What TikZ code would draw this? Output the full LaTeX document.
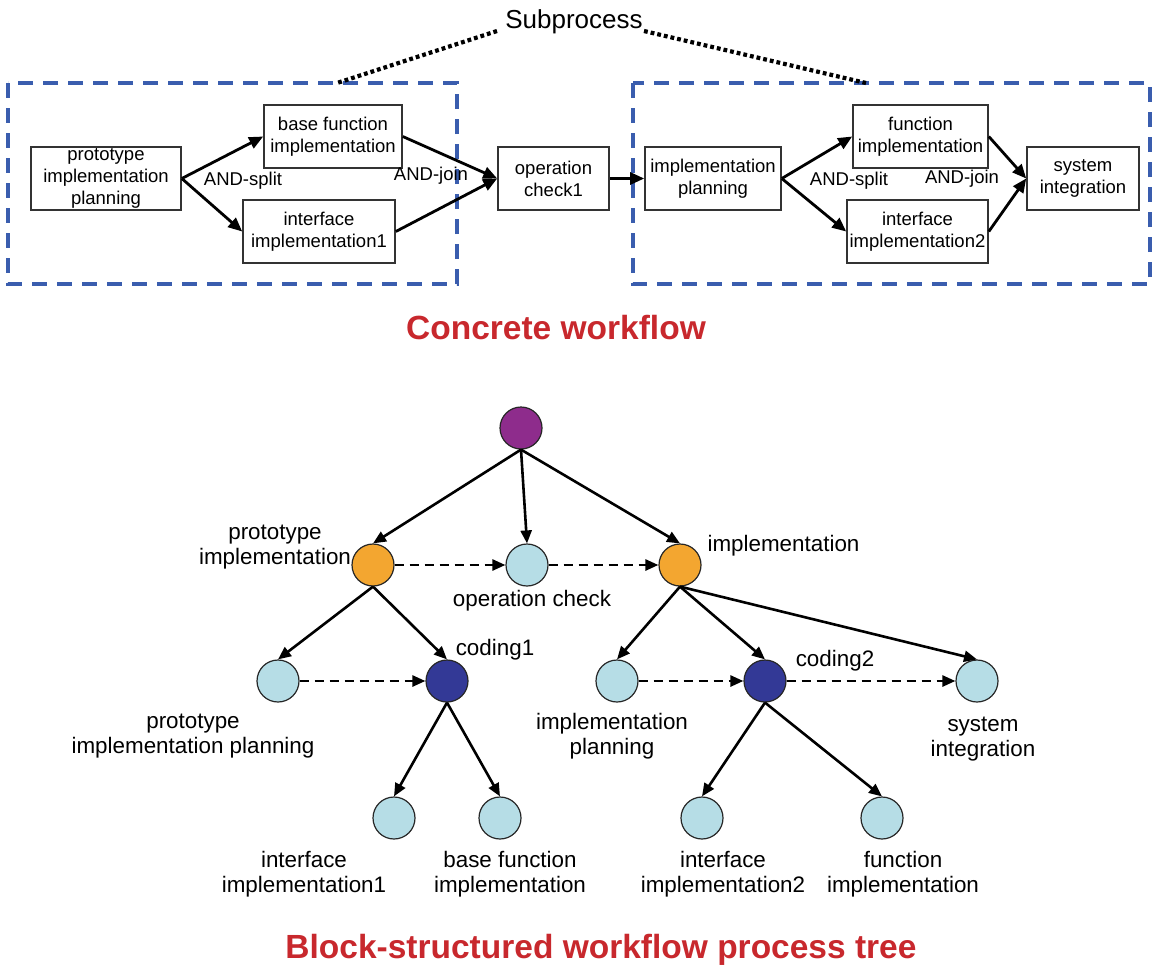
\documentclass[tikz,border=0pt]{standalone}
\usepackage{fontspec}
\setmainfont{Liberation Sans}
\usetikzlibrary{arrows.meta}

\definecolor{framblue}{RGB}{58,93,174}
\definecolor{titlered}{RGB}{200,40,45}
\definecolor{rootpurple}{RGB}{142,44,140}
\definecolor{compOrange}{RGB}{243,166,48}
\definecolor{leafblue}{RGB}{182,221,230}
\definecolor{codeblue}{RGB}{51,57,150}

\begin{document}
\begin{tikzpicture}[x=1pt,y=-1pt,
  task/.style={draw=black!80, line width=1.6pt, fill=white, minimum height=63pt,
    align=center, inner sep=1pt, font=\fontsize{18.5}{22}\selectfont},
  flow/.style={line width=2.8pt, -{Triangle[length=14pt,width=12pt]}},
  subbox/.style={draw=framblue, line width=4pt, dash pattern=on 15pt off 10pt},
  pointer/.style={line width=4.2pt, dash pattern=on 3.8pt off 3pt},
  gate/.style={font=\fontsize{18.5}{22}\selectfont},
  title/.style={text=titlered, font=\fontsize{33.5}{38}\selectfont\bfseries},
  tnode/.style={circle, draw=black!85, line width=1.2pt, minimum size=42pt, inner sep=0pt},
  tlabel/.style={align=center, font=\fontsize{22.4}{25.5}\selectfont},
  child/.style={line width=2.6pt, -{Triangle[length=13pt,width=11pt]}},
  order/.style={line width=2.6pt, dash pattern=on 9pt off 6pt, -{Triangle[length=13pt,width=11pt]}}
]
\useasboundingbox (0,0) rectangle (1154,970);

% ---------- concrete workflow ----------
\draw[subbox] (8,83) rectangle (457,284);
\draw[subbox] (633,83) rectangle (1150,284);

\node[font=\fontsize{26}{30}\selectfont] (sub) at (574,22) {Subprocess};
\coordinate (subL) at (497,31);
\coordinate (subR) at (644,31);
\coordinate (boxL) at (337,83);
\coordinate (boxR) at (866,83);
\draw[pointer] (subL) -- (boxL);
\draw[pointer] (subR) -- (boxR);

\node[task, minimum width=150pt] (proto) at (106,178.5) {prototype\\implementation\\planning};
\node[task, minimum width=138pt] (base) at (333,136.5) {base function\\implementation};
\node[task, minimum width=152pt] (if1) at (319,231.5) {interface\\implementation1};
\node[task, minimum width=111pt] (opc) at (553.5,178.5) {operation\\check1};
\node[task, minimum width=136pt] (iplan) at (713,178.5) {implementation\\planning};
\node[task, minimum width=135pt] (func) at (920.5,136.5) {function\\implementation};
\node[task, minimum width=141pt] (if2) at (917.5,231.5) {interface\\implementation2};
\node[task, minimum width=112pt] (sys) at (1083,178.5) {system\\integration};

\draw[flow] (proto.east) -- (base.west);
\draw[flow] (proto.east) -- (if1.west);
\draw[flow] (base.east) -- (opc.west);
\draw[flow] (if1.east) -- (opc.west);
\draw[flow] (opc.east) -- (iplan.west);
\draw[flow] (iplan.east) -- (func.west);
\draw[flow] (iplan.east) -- (if2.west);
\draw[flow] (func.east) -- (sys.west);
\draw[flow] (if2.east) -- (sys.west);

\node[gate] (split1) at (243,181) {AND-split};
\node[gate] (join1) at (431,176) {AND-join};
\node[gate] (split2) at (849,181) {AND-split};
\node[gate] (join2) at (962,179) {AND-join};

\node[title] (t1) at (556,328) {Concrete workflow};

% ---------- process tree ----------
\node[tnode, fill=rootpurple] (root) at (521,428) {};
\node[tnode, fill=compOrange] (pimp) at (373,565) {};
\node[tnode, fill=leafblue] (ochk) at (527,565) {};
\node[tnode, fill=compOrange] (imp) at (680,565) {};
\node[tnode, fill=leafblue] (ppl) at (278,681) {};
\node[tnode, fill=codeblue] (cod1) at (447,681) {};
\node[tnode, fill=leafblue] (ipl) at (617,681) {};
\node[tnode, fill=codeblue] (cod2) at (765,681) {};
\node[tnode, fill=leafblue] (sint) at (977,681) {};
\node[tnode, fill=leafblue] (ii1) at (394,818) {};
\node[tnode, fill=leafblue] (bfi) at (500,818) {};
\node[tnode, fill=leafblue] (ii2) at (702,818) {};
\node[tnode, fill=leafblue] (fi) at (882,818) {};

\draw[child] (root.south) -- (pimp.north);
\draw[child] (root.south) -- (ochk.north);
\draw[child] (root.south) -- (imp.north);
\draw[child] (pimp.south) -- (ppl.north);
\draw[child] (pimp.south) -- (cod1.north);
\draw[child] (imp.south) -- (ipl.north);
\draw[child] (imp.south) -- (cod2.north);
\draw[child] (imp.south) -- (sint.north);
\draw[child] (cod1.south) -- (ii1.north);
\draw[child] (cod1.south) -- (bfi.north);
\draw[child] (cod2.south) -- (ii2.north);
\draw[child] (cod2.south) -- (fi.north);

\draw[order] (pimp.east) -- (ochk.west);
\draw[order] (ochk.east) -- (imp.west);
\draw[order] (ppl.east) -- (cod1.west);
\draw[order] (ipl.east) -- (cod2.west);
\draw[order] (cod2.east) -- (sint.west);

\node[tlabel] (lpimp) at (275,547) {prototype\\implementation};
\node[tlabel] (lochk) at (532,601) {operation check};
\node[tlabel, anchor=west] (limp) at (704,546) {implementation};
\node[tlabel] (lcod1) at (495,650) {coding1};
\node[tlabel] (lcod2) at (835,661) {coding2};
\node[tlabel] (lppl) at (193,736) {prototype\\implementation planning};
\node[tlabel] (lipl) at (612,736) {implementation\\planning};
\node[tlabel] (lsint) at (983,739) {system\\integration};
\node[tlabel] (lii1) at (304,874) {interface\\implementation1};
\node[tlabel] (lbfi) at (510,874) {base function\\implementation};
\node[tlabel] (lii2) at (723,874) {interface\\implementation2};
\node[tlabel] (lfi) at (903,874) {function\\implementation};

\node[title] (t2) at (601,950) {Block-structured workflow process tree};
\end{tikzpicture}
\end{document}
